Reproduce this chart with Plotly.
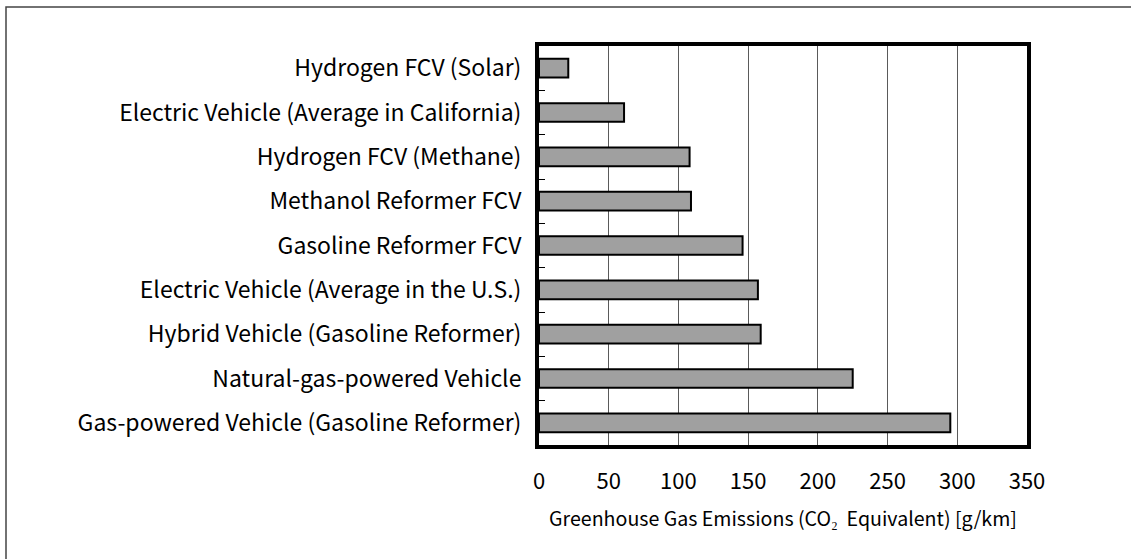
import plotly.graph_objects as go

categories = [
    "Hydrogen FCV (Solar)",
    "Electric Vehicle (Average in California)",
    "Hydrogen FCV (Methane)",
    "Methanol Reformer FCV",
    "Gasoline Reformer FCV",
    "Electric Vehicle (Average in the U.S.)",
    "Hybrid Vehicle (Gasoline Reformer)",
    "Natural-gas-powered Vehicle",
    "Gas-powered Vehicle (Gasoline Reformer)",
]
emissions = [21, 61, 108, 109, 146, 157, 159, 225, 295]
x_ticks = [0, 50, 100, 150, 200, 250, 300, 350]

FONT = "Noto Sans CJK JP"

fig = go.Figure(
    go.Bar(
        y=categories,
        x=emissions,
        orientation="h",
        width=0.42,
        marker=dict(color="#a0a0a0", line=dict(color="black", width=2)),
    )
)

fig.update_layout(
    width=1131,
    height=559,
    margin=dict(l=539, r=104, t=46, b=114),
    paper_bgcolor="white",
    plot_bgcolor="white",
    showlegend=False,
    font=dict(family=FONT, color="black"),
    xaxis=dict(
        range=[0, 350],
        tickvals=x_ticks,
        ticktext=[str(v) for v in x_ticks],
        showgrid=True,
        gridcolor="#5a5a5a",
        gridwidth=1,
        zeroline=False,
        showline=True,
        linecolor="black",
        linewidth=4,
        mirror=True,
        ticks="",
        tickfont=dict(size=22, family=FONT),
        ticklabelstandoff=14,
        title=dict(
            text="Greenhouse Gas Emissions (CO\u2082  Equivalent) [g/km]",
            font=dict(size=19.6, family=FONT),
            standoff=19,
        ),
    ),
    yaxis=dict(
        categoryorder="array",
        categoryarray=categories,
        autorange="reversed",
        showgrid=False,
        zeroline=False,
        showline=True,
        linecolor="black",
        linewidth=4,
        mirror=True,
        ticks="inside",
        tickson="boundaries",
        ticklen=6,
        tickwidth=1,
        tickcolor="black",
        tickfont=dict(size=23, family=FONT),
        ticklabelstandoff=9,
    ),
    shapes=[
        dict(
            type="rect",
            xref="paper",
            yref="paper",
            x0=(6 - 539) / 488,
            x1=(1145 - 539) / 488,
            y0=-(575 - 445) / 399,
            y1=1 + (46 - 7) / 399,
            line=dict(color="#444444", width=1.5),
            fillcolor="rgba(0,0,0,0)",
            layer="below",
        )
    ],
)

fig.write_html(
    "out.html",
    config={"displayModeBar": False},
    post_script="document.body.style.margin='0';document.body.style.overflow='hidden';",
)
